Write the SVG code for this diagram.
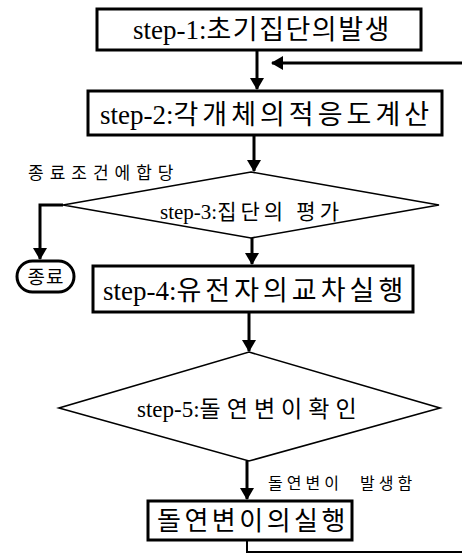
<svg xmlns="http://www.w3.org/2000/svg" width="462" height="559" viewBox="0 0 462 559">
<style>
.box{fill:#fff;stroke:#000;stroke-width:3}
.dia{fill:#fff;stroke:#000;stroke-width:1.6}
.t{font-family:"Liberation Serif","Noto Sans CJK KR",serif;fill:#000}
.big{font-size:27px}
.sm{font-size:17px}
.ln{fill:none;stroke:#000;stroke-width:3}
.thin{fill:none;stroke:#000;stroke-width:2}
</style>
<defs>
<marker id="ah" viewBox="0 0 12 14" refX="11" refY="7" markerWidth="12" markerHeight="14" markerUnits="userSpaceOnUse" orient="auto">
<path d="M0,0 L12,7 L0,14 Z" fill="#000"/>
</marker>
</defs>
<rect width="462" height="559" fill="#fff"/>
<g id="connectors">
<line class="ln" x1="257" y1="50" x2="257" y2="89" marker-end="url(#ah)"/>
<line class="ln" x1="462" y1="63" x2="272" y2="63" marker-end="url(#ah)"/>
<line class="ln" x1="254" y1="135" x2="254" y2="171" marker-end="url(#ah)"/>
<polyline class="ln" points="63,205 40,205 40,259" marker-end="url(#ah)"/>
<line class="ln" x1="252" y1="238" x2="252" y2="264" marker-end="url(#ah)"/>
<line class="ln" x1="249" y1="312" x2="249" y2="351" marker-end="url(#ah)"/>
<line class="ln" x1="247" y1="461" x2="247" y2="499" marker-end="url(#ah)"/>
<polyline class="thin" points="247,540 247,552 462,552"/>
<text class="t sm" x="28" y="179" letter-spacing="6">종료조건에합당</text>
<text class="t" style="font-size:16px" x="268" y="489" letter-spacing="4">돌연변이<tspan x="360">발생함</tspan></text>
</g>
<g id="step1">
<rect class="box" x="97" y="9" width="324" height="41"/>
<text class="t big" x="133" y="39">step-1:<tspan letter-spacing="1.5">초기집단의발생</tspan></text>
</g>
<g id="step2">
<rect class="box" x="88" y="91" width="354" height="44"/>
<text class="t big" x="100" y="124">step-2:<tspan letter-spacing="4">각개체의적응도계산</tspan></text>
</g>
<g id="step3">
<polygon class="dia" points="251,172 439,205 251,238 63,205"/>
<text class="t" style="font-size:21px" x="160" y="219">step-3:<tspan letter-spacing="4">집단의 평가</tspan></text>
</g>
<g id="end">
<rect class="box" x="17" y="261" width="57" height="31" rx="15.5" ry="15.5"/>
<text class="t" style="font-size:19px" x="46" y="284" text-anchor="middle" letter-spacing="1">종료</text>
</g>
<g id="step4">
<rect class="box" x="93" y="266" width="320" height="46"/>
<text class="t big" x="103" y="300">step-4:<tspan letter-spacing="4">유전자의교차실행</tspan></text>
</g>
<g id="step5">
<polygon class="dia" points="249,352 440,408 249,461 59,408"/>
<text class="t" style="font-size:23px" x="137" y="417">step-5:<tspan letter-spacing="6">돌연변이확인</tspan></text>
</g>
<g id="mutation">
<rect class="box" x="148" y="501" width="204" height="39"/>
<text class="t" style="font-size:26px" x="157" y="530" letter-spacing="3.5">돌연변이의실행</text>
</g>
</svg>
